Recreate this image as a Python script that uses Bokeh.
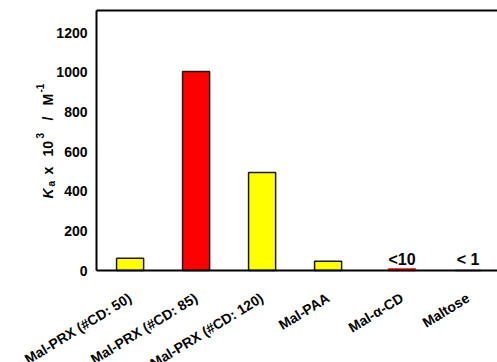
import math
from bokeh.plotting import figure
from bokeh.models import ColumnDataSource, Range1d, Label, CDSView, IndexFilter
from bokeh.transform import dodge
from bokeh.core.properties import value
from bokeh.embed import file_html
from bokeh.resources import INLINE

# ---- data ----
categories = ["Mal-PRX (#CD: 50)", "Mal-PRX (#CD: 85)", "Mal-PRX (#CD: 120)",
              "Mal-PAA", "Mal-\u03b1-CD", "Maltose"]
ka_values = [62, 1005, 495, 47, 8, 0]
notes = ["", "", "", "", "<10", "< 1"]
y_ticks = [0, 200, 400, 600, 800, 1000, 1200]

# ---- styles / layout ----
bar_fill = ["#FFFF00", "#FF0000", "#FFFF00", "#FFFF00", "#FF0000", "#FFFF00"]
bar_line = ["#1a1a1a", "#1a1a1a", "#1a1a1a", "#1a1a1a", "#FF0000", "#1a1a1a"]
FONT = "Liberation Sans"
W, H = 497, 362
YTOP = 1313                  # value at the top border line
Y0_PX, YTOP_PX = 270, 10     # canvas rows of y=0 and y=YTOP
PXY = (Y0_PX - YTOP_PX) / YTOP
X0_PX, CW = 129.6, 66.0      # canvas column of first category, px per category
AXIS_PX = 96                 # canvas column of the y axis line


def dx(px_):
    return (px_ - X0_PX) / CW


def dy(py_):
    return (Y0_PX - py_) / PXY


AXIS_X = dx(AXIS_PX)
X_END = dx(W)

src = ColumnDataSource(dict(idx=list(range(len(categories))), cat=categories,
                            val=ka_values, note=notes, fill=bar_fill, line=bar_line))
tick_src = ColumnDataSource(dict(y=y_ticks, label=[str(t) for t in y_ticks]))

p = figure(x_range=Range1d(dx(0), X_END), y_range=Range1d(dy(H), dy(0)),
           width=W, height=H, output_backend="svg", toolbar_location=None,
           min_border_left=0, min_border_right=0, min_border_top=0, min_border_bottom=0)
p.outline_line_color = None
p.grid.visible = False
p.axis.visible = False

first_view = CDSView(filter=IndexFilter([0, 1, 2, 3]))
last_view = CDSView(filter=IndexFilter([4, 5]))
shifted = dodge("idx", 0.12, range=p.x_range)

p.vbar(x="idx", top="val", width=0.41, source=src, view=first_view,
       fill_color="fill", line_color="line", line_width=1.5)
p.vbar(x=shifted, top="val", width=0.41, source=src, view=last_view,
       fill_color="fill", line_color="line", line_width=1.5)

# axis lines and top border
p.segment(x0=AXIS_X, y0=0, x1=AXIS_X, y1=YTOP, line_color="black", line_width=2)
p.segment(x0=AXIS_X, y0=0, x1=X_END, y1=0, line_color="black", line_width=2)
p.segment(x0=AXIS_X, y0=YTOP, x1=X_END, y1=YTOP, line_color="black", line_width=2)

# y tick labels
p.text(x=AXIS_X, y="y", text="label", source=tick_src, x_offset=-9,
       text_align="right", text_baseline="middle", text_font=value(FONT),
       text_font_style="bold", text_font_size="14px", text_color="black")

# notes above the small bars
p.text(x=shifted, y=0, text="note", source=src, view=last_view,
       y_offset=-11, text_align="center", text_baseline="alphabetic",
       text_font=value(FONT), text_font_style="bold", text_font_size="16px",
       text_color="black")

# category labels (rotated)
for xs, vw in (("idx", first_view), (shifted, last_view)):
    p.text(x=xs, y=0, text="cat", source=src, view=vw, angle=0.55,
           y_offset=26, text_align="right", text_baseline="middle",
           text_font=value(FONT), text_font_style="bold",
           text_font_size="14px", text_color="black")

# y axis title: K_a x 10^3 / M^-1
pieces = [
    ("K", 47, 198, "14px", "bold italic"),
    ("a", 51, 186, "10px", "bold"),
    ("x", 47, 174, "14px", "bold"),
    ("10", 47, 156, "14px", "bold"),
    ("3", 39, 138, "10px", "bold"),
    ("/", 47, 120, "14px", "bold"),
    ("M", 47, 105, "14px", "bold"),
    ("-1", 39, 92, "10px", "bold"),
]
for txt, px_, py_, fs, st in pieces:
    p.add_layout(Label(x=dx(px_), y=dy(py_), text=txt, angle=math.pi / 2,
                       text_align="left", text_baseline="alphabetic", text_font=FONT,
                       text_font_style=st, text_font_size=fs, text_color="black"))

open("out.html", "w").write(file_html(p, INLINE))
